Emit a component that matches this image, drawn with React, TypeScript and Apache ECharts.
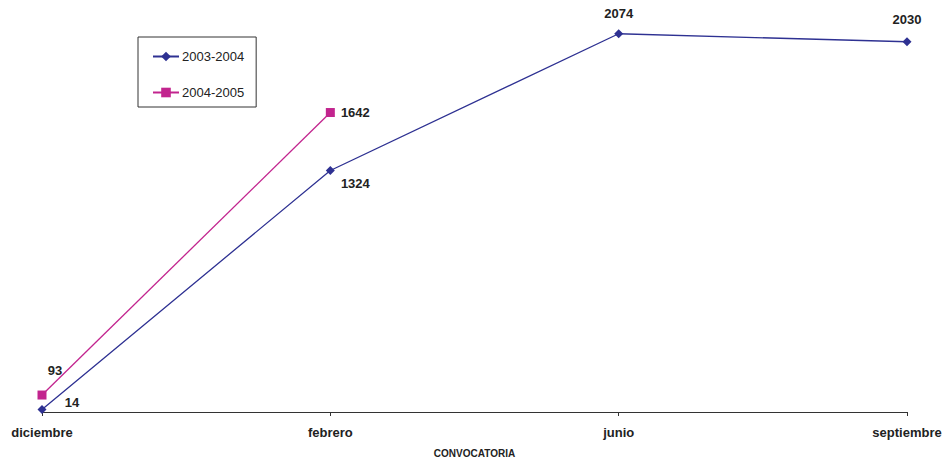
import React, { useEffect, useRef } from "react";
import * as echarts from "echarts";

const categories = ["diciembre", "febrero", "junio", "septiembre"];
const serie2003 = [14, 1324, 2074, 2030];
const serie2004: (number | null)[] = [93, 1642, null, null];
const seriesNames = ["2003-2004", "2004-2005"];

const offsets2003 = [[30, -7], [25, 13], [0, -20], [0, -22]];
const offsets2004 = [[13, -25], [25, 0], [0, 0], [0, 0]];

const labelStyle = {
  show: true,
  position: "inside" as const,
  fontFamily: "Liberation Sans, Arial, sans-serif",
  fontWeight: "bold" as const,
  fontSize: 13,
  color: "#222",
};

export default function App() {
  const ref = useRef<HTMLDivElement>(null);
  useEffect(() => {
    if (!ref.current) return;
    const chart = echarts.init(ref.current, undefined, { renderer: "svg" });
    chart.setOption({
      animation: false,
      backgroundColor: "#fff",
      textStyle: { fontFamily: "Liberation Sans, Arial, sans-serif" },
      grid: { left: 42, right: 39, top: 29, bottom: 51, containLabel: false, outerBoundsMode: "none" },
      legend: {
        orient: "vertical",
        left: 138,
        top: 37,
        padding: [13, 12, 8, 14],
        itemWidth: 26,
        itemHeight: 12,
        itemGap: 23,
        borderColor: "#333",
        borderWidth: 1,
        textStyle: { fontSize: 13, color: "#222", padding: [0, 0, 0, -2] },
        data: seriesNames,
      },
      xAxis: {
        type: "category",
        data: categories,
        boundaryGap: false,
        name: "CONVOCATORIA",
        nameLocation: "middle",
        nameGap: 36,
        nameTextStyle: { fontSize: 10, fontWeight: "bold", color: "#222" },
        axisLine: { lineStyle: { color: "#333", width: 1 } },
        axisTick: { show: true, length: 4, lineStyle: { color: "#333" } },
        axisLabel: { fontSize: 13, fontWeight: "bold", color: "#222", margin: 14 },
        splitLine: { show: false },
      },
      yAxis: {
        type: "value",
        min: 0,
        max: 2100,
        show: false,
        splitLine: { show: false },
      },
      series: [
        {
          name: seriesNames[0],
          type: "line",
          data: serie2003.map((v, i) => ({
            value: v,
            label: { ...labelStyle, offset: offsets2003[i] },
          })),
          symbol: "diamond",
          symbolSize: 9,
          color: "#2E3192",
          lineStyle: { width: 1.3, color: "#2E3192" },
          itemStyle: { color: "#2E3192" },
        },
        {
          name: seriesNames[1],
          type: "line",
          data: serie2004.map((v, i) => ({
            value: v,
            label: { ...labelStyle, offset: offsets2004[i] },
          })),
          symbol: "rect",
          symbolSize: 9,
          color: "#C2248E",
          lineStyle: { width: 1.3, color: "#C2248E" },
          itemStyle: { color: "#C2248E" },
        },
      ],
    });
    return () => chart.dispose();
  }, []);
  return <div ref={ref} style={{ width: 946, height: 463, position: "absolute", left: 0, top: 0 }} />;
}
